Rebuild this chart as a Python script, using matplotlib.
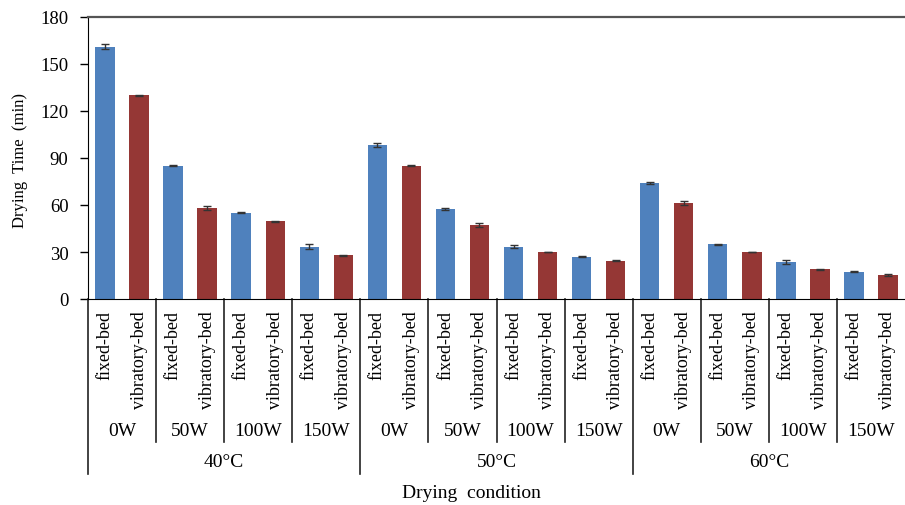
import matplotlib.pyplot as plt
import matplotlib.transforms as mtransforms

plt.rcParams['font.family'] = ['Liberation Serif', 'DejaVu Serif']

# drying time (min) for each condition, in plotting order
temps = ['40°C', '50°C', '60°C']
powers = ['0W', '50W', '100W', '150W']
beds = ['fixed-bed', 'vibratory-bed']

time_min = [161, 130, 85, 58, 55, 49.5, 33.5, 28,
            98.5, 85, 57.5, 47, 33.5, 30, 27, 24.5,
            74, 61, 35, 30, 23.5, 19, 17.5, 15.5]
time_err = [1.5, 0.3, 0.3, 1.2, 0.4, 0.3, 1.3, 0.3,
            1.2, 0.3, 0.5, 1.2, 1.2, 0.3, 0.3, 0.3,
            0.5, 1.3, 0.3, 0.3, 1.2, 0.3, 0.4, 0.5]

bar_colors = ['#4F81BD', '#953735']

fig = plt.figure(figsize=(9.05, 5.06), dpi=100)
ax = fig.add_axes([88 / 905, 206 / 506, 817 / 905, 282 / 506])

x = list(range(len(time_min)))
colors = [bar_colors[i % 2] for i in x]
ax.bar(x, time_min, width=0.57, color=colors, zorder=2)
ax.errorbar(x, time_min, yerr=time_err, fmt='none', ecolor='#333333',
            elinewidth=1, capsize=3, capthick=1, zorder=3)

ax.set_xlim(-0.5, 23.5)
ax.set_ylim(0, 180)
ax.set_yticks(range(0, 181, 30))
ax.tick_params(axis='y', direction='out', length=6, width=1, pad=8, labelsize=13.5)
ax.set_xticks([])

ax.spines['right'].set_visible(False)
ax.spines['top'].set_color('#555555')
ax.spines['top'].set_linewidth(1.6)
ax.spines['left'].set_color('black')
ax.spines['bottom'].set_color('black')

trans = mtransforms.blended_transform_factory(ax.transData, ax.transAxes)

# bed-type labels under each bar
for i in x:
    ax.text(i, -0.04, beds[i % 2], transform=trans, rotation=90,
            ha='center', va='top', fontsize=13, clip_on=False)

# power labels and their dividers
for k in range(len(temps) * len(powers)):
    ax.text(2 * k + 0.5, -0.468, powers[k % 4], transform=trans,
            ha='center', va='center', fontsize=14)
    edge = 2 * k - 0.5
    if k % 4 != 0:
        ax.plot([edge, edge], [0, -0.507], transform=trans, color='#222222',
                lw=1.2, clip_on=False)

# temperature labels and their dividers
for t in range(len(temps)):
    ax.text(8 * t + 3.5, -0.578, temps[t], transform=trans,
            ha='center', va='center', fontsize=14)
    edge = 8 * t - 0.5
    ax.plot([edge, edge], [0, -0.62], transform=trans, color='#222222',
            lw=1.2, clip_on=False)

fig.text(471 / 905, 1 - 494 / 506, 'Drying  condition', ha='center', va='center',
         fontsize=14)
fig.text(20 / 905, 1 - 161 / 506, 'Drying  Time  (min)', rotation=90,
         ha='center', va='center', fontsize=12)

fig.savefig('out.png', dpi=100)
